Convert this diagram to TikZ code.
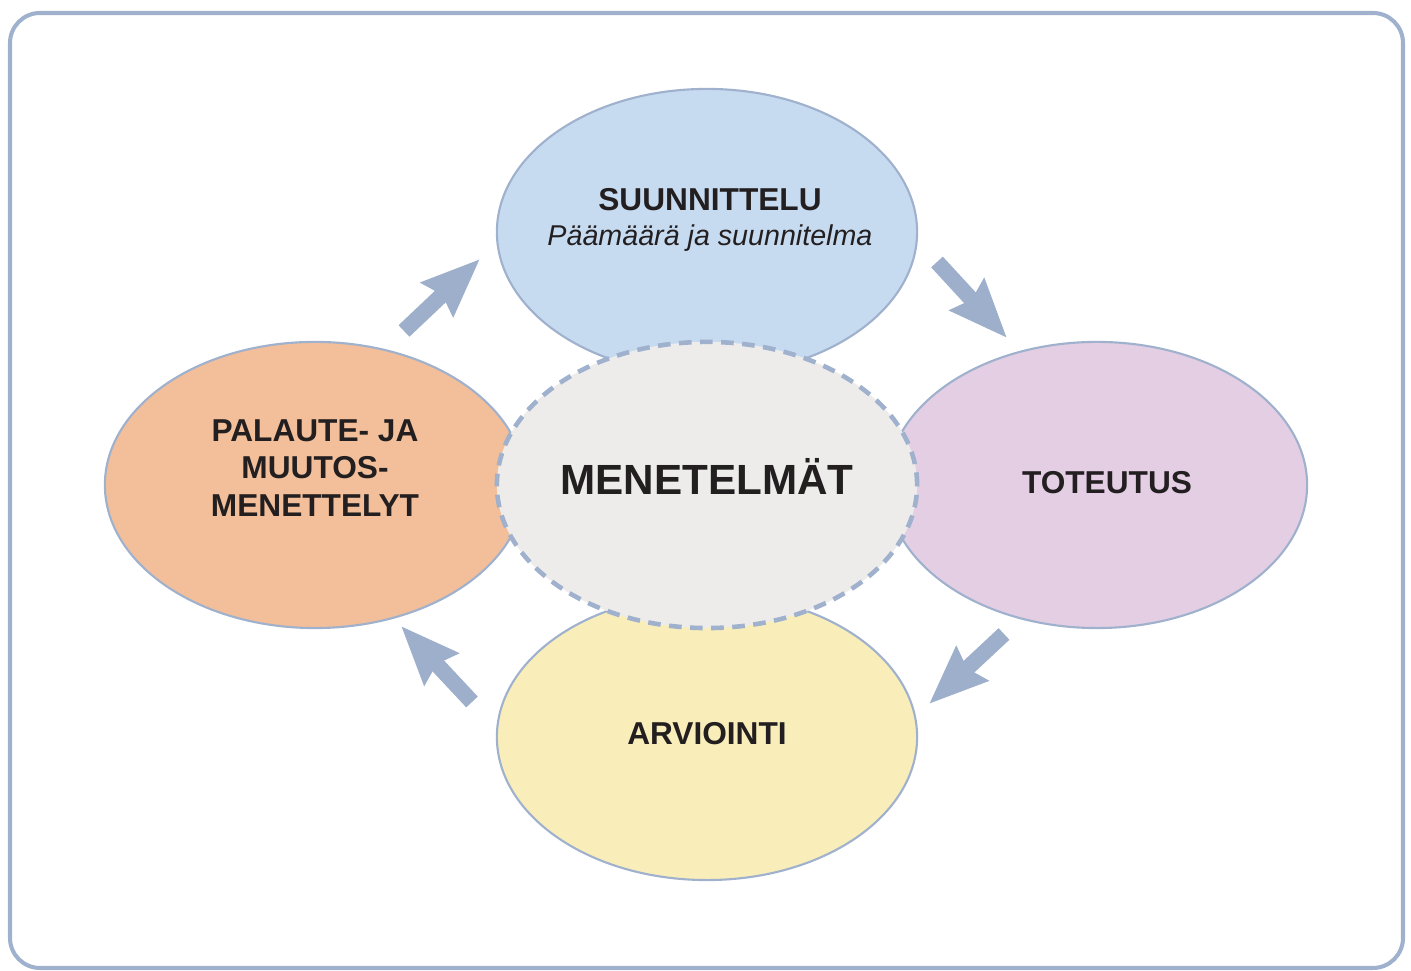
\documentclass[tikz,border=0pt]{standalone}
\usepackage{fontspec}
\setmainfont{Liberation Sans}
\usetikzlibrary{shapes.geometric,arrows.meta}
\definecolor{stroke}{HTML}{9FB1CC}
\definecolor{arrowc}{HTML}{9DAFCA}
\definecolor{topfill}{HTML}{C6DAF0}
\definecolor{leftfill}{HTML}{F2BF9A}
\definecolor{rightfill}{HTML}{E3CEE4}
\definecolor{botfill}{HTML}{F9EEBA}
\definecolor{midfill}{HTML}{EDECEB}
\definecolor{txt}{HTML}{231F20}
\tikzset{
  phase/.style={ellipse, draw=stroke, line width=0.6pt, inner sep=0pt,
    minimum width=4.2cm, minimum height=2.86cm},
  lbl/.style={text=txt, font=\fontsize{9}{10.6}\selectfont\bfseries, align=center, inner sep=0pt},
  flow/.style={arrowc, line width=4.5pt,
    -{Stealth[length=16.5pt, width=12.8pt, inset=1.7pt]}},
}
\begin{document}
\begin{tikzpicture}[x=0.01cm,y=-0.01cm]
\useasboundingbox (0,0) rectangle (1411,971);
\draw[draw=stroke, line width=1.15pt, rounded corners=0.3cm] (10,13) rectangle (1403,968);

\node[phase, fill=topfill] (plan) at (707,232) {};
\node[phase, fill=leftfill] (feed) at (315,485) {};
\node[phase, fill=rightfill] (impl) at (1097,485) {};
\node[phase, fill=botfill] (eval) at (707,737) {};
\node[phase, fill=midfill, line width=1.3pt, dash pattern=on 3.6pt off 2.4pt] (meth) at (707,485) {};

\node[lbl, anchor=base] (planT) at (710,211) {SUUNNITTELU};
\node[lbl, anchor=base, font=\fontsize{8.15}{10}\selectfont\itshape] (planS) at (710,246) {Päämäärä ja suunnitelma};
\node[lbl] (feedT) at (315,468) {PALAUTE- JA\\MUUTOS-\\MENETTELYT};
\node[lbl, anchor=base] (implT) at (1107,494) {TOTEUTUS};
\node[lbl, anchor=base] (evalT) at (707,745) {ARVIOINTI};
\node[lbl, anchor=base, font=\fontsize{12}{14}\selectfont\bfseries] (methT) at (707,495) {MENETELMÄT};

\coordinate (a1s) at (404,331); \coordinate (a1e) at (480,259);
\coordinate (a2s) at (937,262); \coordinate (a2e) at (1007,338);
\coordinate (a3s) at (1004,634); \coordinate (a3e) at (929,704);
\coordinate (a4s) at (472,702); \coordinate (a4e) at (401,626);
\draw[flow] (a1s) -- (a1e);
\draw[flow] (a2s) -- (a2e);
\draw[flow] (a3s) -- (a3e);
\draw[flow] (a4s) -- (a4e);
\end{tikzpicture}
\end{document}
